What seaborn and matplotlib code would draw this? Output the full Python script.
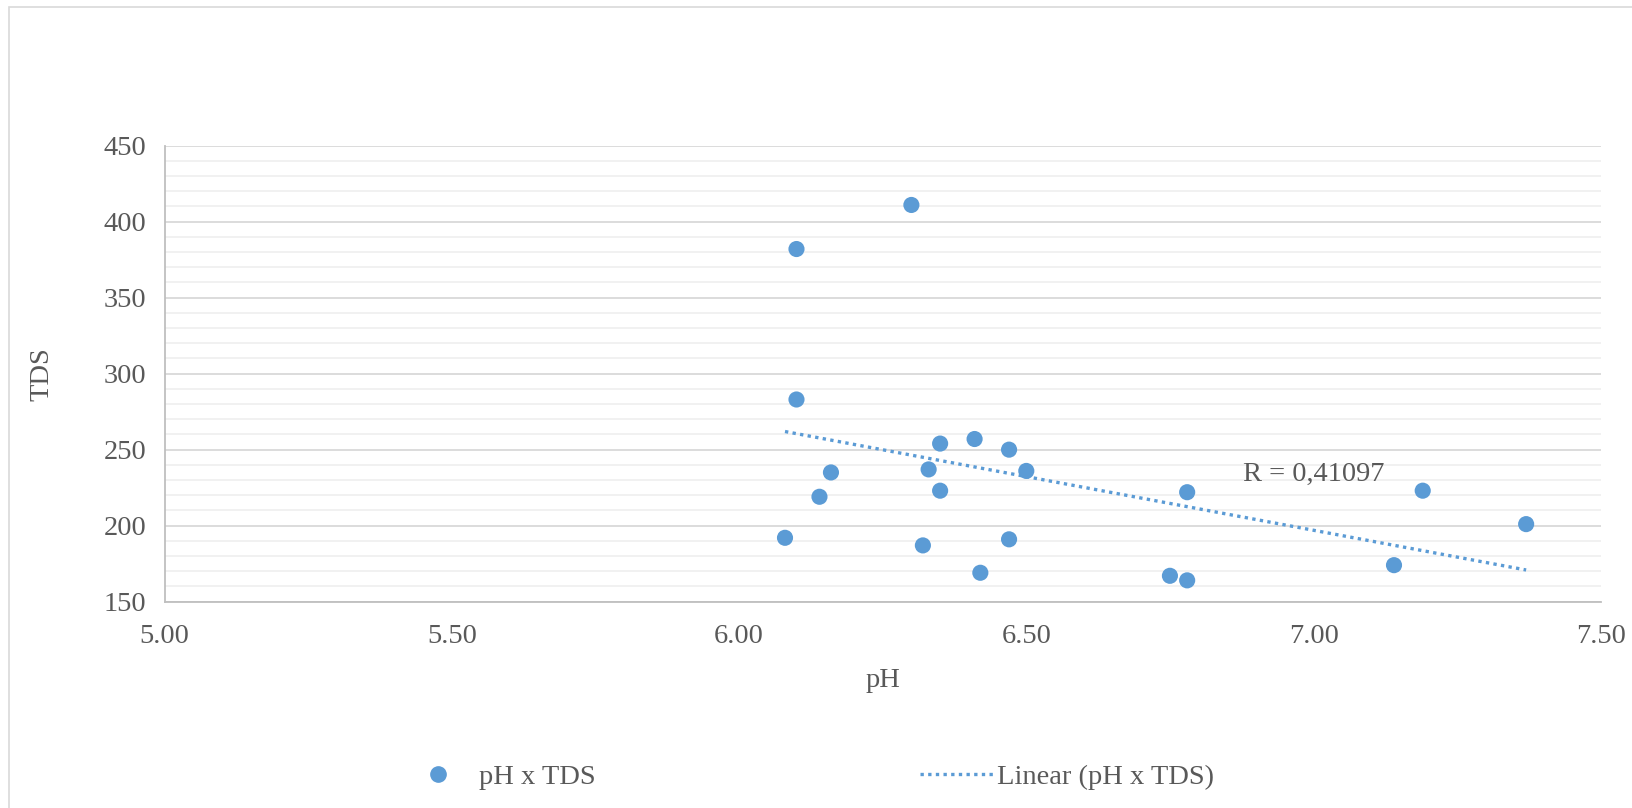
import numpy as np
import pandas as pd
import matplotlib
matplotlib.use("Agg")
import matplotlib.pyplot as plt
from matplotlib.ticker import MultipleLocator, FormatStrFormatter
from matplotlib.patches import Rectangle
from matplotlib.lines import Line2D
import seaborn as sns

# Water samples: pH against total dissolved solids
ph = [6.30, 6.10, 6.10, 6.35, 6.41, 6.47, 6.33, 6.50, 6.16, 6.35, 6.14,
      6.08, 6.32, 6.47, 6.42, 6.75, 6.78, 6.78, 7.14, 7.19, 7.37]
tds = [411, 382, 283, 254, 257, 250, 237, 236, 235, 223, 219,
       192, 187, 191, 169, 167, 164, 222, 174, 223, 201]
r_label = "R = 0,41097"
series_label = "pH x TDS"
trend_label = "Linear (pH x TDS)"

df = pd.DataFrame({"pH": ph, "TDS": tds})

sns.set_theme(style="white")
plt.rcParams["font.family"] = ["Liberation Serif", "DejaVu Serif"]

blue = "#5b9bd5"
text_gray = "#595959"
fs = 20.5

fig = plt.figure(figsize=(16.32, 8.08), dpi=100)
ax = fig.add_axes([0.1008, 0.2554, 0.8801, 0.5643])

# chart frame
fig.patches.append(Rectangle((9 / 1632, -0.01), 1.0, 1 - 7 / 808 + 0.01,
                             transform=fig.transFigure, fill=False,
                             edgecolor="#d9d9d9", linewidth=1.2, zorder=0))

sns.regplot(data=df, x="pH", y="TDS", ax=ax, scatter=False, ci=None,
            truncate=True, color=blue,
            line_kws=dict(linestyle=(0, (1, 1.3)), linewidth=2.4, zorder=3))
sns.scatterplot(data=df, x="pH", y="TDS", ax=ax, color=blue, s=135,
                edgecolor="none", zorder=4, legend=False)

ax.set_xlim(5.0, 7.5)
ax.set_ylim(150, 450)
ax.xaxis.set_major_locator(MultipleLocator(0.5))
ax.xaxis.set_major_formatter(FormatStrFormatter("%.2f"))
ax.yaxis.set_major_locator(MultipleLocator(50))
ax.yaxis.set_minor_locator(MultipleLocator(10))

ax.grid(False)
ax.yaxis.grid(True, which="major", color="#d9d9d9", linewidth=1.3, zorder=0)
ax.yaxis.grid(True, which="minor", color="#f0f0f0", linewidth=1.3, zorder=0)
ax.set_axisbelow(True)

for side in ["top", "right"]:
    ax.spines[side].set_visible(False)
for side in ["left", "bottom"]:
    ax.spines[side].set_color("#bfbfbf")
    ax.spines[side].set_linewidth(1.3)

ax.tick_params(axis="both", which="major", direction="out", length=8,
               width=1.3, color="#bfbfbf", labelsize=fs,
               labelcolor=text_gray, pad=5)
ax.tick_params(axis="y", which="minor", length=0)
ax.tick_params(axis="x", which="major", pad=8)

ax.set_xlabel("pH", fontsize=fs, color=text_gray)
ax.set_ylabel("TDS", fontsize=fs, color=text_gray)
ax.xaxis.set_label_coords(0.5, -0.145)
ax.yaxis.set_label_coords(-0.0765, 0.5)

ax.text(6.877, 234, r_label, fontsize=fs, color=text_gray,
        ha="left", va="center", zorder=5)

handles = [
    Line2D([], [], marker="o", linestyle="none", color=blue, markersize=11),
    Line2D([], [], linestyle=(0, (1, 1.3)), linewidth=2.4, color=blue),
]
fig.legend(handles, [series_label, trend_label], loc="center",
           bbox_to_anchor=(0.495, 1 - 777 / 808), ncol=2, frameon=False,
           fontsize=fs, labelcolor=text_gray, columnspacing=11.4,
           handlelength=2.55, handletextpad=0.15)

fig.savefig("out.png", dpi=100, facecolor="white")
